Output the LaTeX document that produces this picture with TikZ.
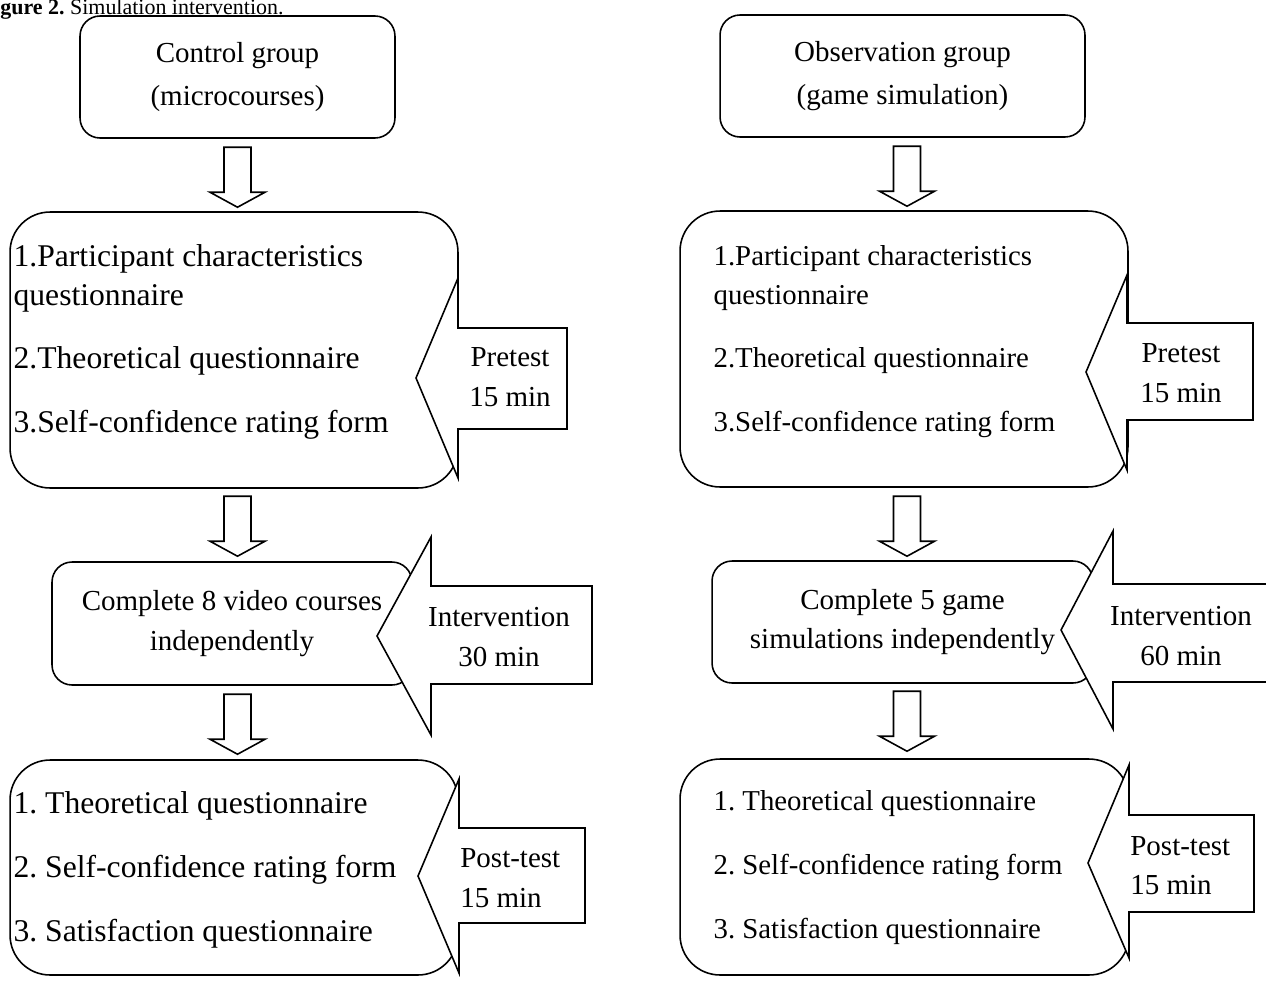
\documentclass[tikz,border=0pt]{standalone}
\usepackage{fontspec}
\setmainfont{Liberation Serif}
\usetikzlibrary{calc}

\tikzset{
  grpbox/.style={draw, line width=0.9pt, rounded corners=0.4cm, align=center, inner sep=0pt},
  listbox/.style={draw, line width=0.9pt, rounded corners=0.8cm, inner sep=0pt},
  listtext/.style={align=left, inner sep=0pt, anchor=west, font=\fontsize{18}{22.2}\selectfont},
  smalllist/.style={listtext, font=\fontsize{16.4}{22.2}\selectfont},
  blockarrow/.style={draw, line width=0.9pt, fill=white, line join=miter},
  armtext/.style={inner sep=0pt},
  pics/downblock/.style={code={
    \draw[blockarrow] (0,0) -- (-27.5,-15) -- (-13.5,-15) -- (-13.5,-60)
      -- (13.5,-60) -- (13.5,-15) -- (27.5,-15) -- cycle;
  }}
}

\begin{document}
\frenchspacing
\begin{tikzpicture}[x=0.02cm, y=-0.02cm, font=\fontsize{16.5}{22.5}\selectfont]
    \useasboundingbox (0,0) rectangle (1266,980);

    % Caption
    \node[anchor=base west, inner sep=0pt, font=\fontsize{12.5}{14}\selectfont] (cap) at (0,15)
        {\textbf{gure 2.}\ Simulation intervention.};

    % Control group column
    \node[grpbox, minimum width=6.3cm, minimum height=2.44cm] (c1) at (237.5,77)
        {Control group\\[2pt](microcourses)};
    \node[listbox, minimum width=8.96cm, minimum height=5.52cm] (c2) at (234,350) {};
    \node[listtext] (c2t) at ($(c2.west)+(4,-8)$)
        {1.Participant characteristics\\questionnaire\\[0.48cm]2.Theoretical questionnaire\\[0.5cm]3.Self-confidence rating form};
    \node[grpbox, minimum width=7.2cm, minimum height=2.46cm] (c3) at (232,623.5)
        {Complete 8 video courses\\independently};
    \node[listbox, minimum width=8.96cm, minimum height=4.3cm] (c4) at (234,867.5) {};
    \node[listtext] (c4t) at ($(c4.west)+(4,2)$)
        {1. Theoretical questionnaire\\[0.5cm]2. Self-confidence rating form\\[0.5cm]3. Satisfaction questionnaire};

    % Observation group column
    \node[grpbox, minimum width=7.3cm, minimum height=2.44cm] (o1) at (902.5,76)
        {Observation group\\[2pt](game simulation)};
    \node[listbox, minimum width=8.96cm, minimum height=5.52cm] (o2) at (904,349) {};
    \node[smalllist] (o2t) at ($(o2.west)+(34,-7)$)
        {1.Participant characteristics\\questionnaire\\[0.48cm]2.Theoretical questionnaire\\[0.5cm]3.Self-confidence rating form};
    \node[grpbox, minimum width=7.62cm, minimum height=2.44cm] (o3) at (902.5,622)
        {Complete 5 game\\simulations independently};
    \node[listbox, minimum width=8.98cm, minimum height=4.32cm] (o4) at (904.5,867) {};
    \node[smalllist] (o4t) at ($(o4.west)+(34,1)$)
        {1. Theoretical questionnaire\\[0.5cm]2. Self-confidence rating form\\[0.5cm]3. Satisfaction questionnaire};

    % Down arrows between the steps
    \pic at ($(c1.south |- c2.north)+(0,-4)$) {downblock};
    \pic at ($(c1.south |- c3.north)+(0,-5)$) {downblock};
    \pic at ($(c1.south |- c4.north)+(0,-5)$) {downblock};
    \pic at ($(o1.south |- o2.north)+(4.5,-4)$) {downblock};
    \pic at ($(o1.south |- o3.north)+(4.5,-4)$) {downblock};
    \pic at ($(o1.south |- o4.north)+(4.5,-7)$) {downblock};

    % Side arrows (left column)
    \draw[blockarrow] (416,378) -- (458,278) -- (458,328) -- (567,328) -- (567,429) -- (458,429) -- (458,478) -- cycle;
    \draw[blockarrow] (377,636) -- (431,537) -- (431,586) -- (592,586) -- (592,684) -- (431,684) -- (431,735) -- cycle;
    \draw[blockarrow] (418,876) -- (459,779) -- (459,828) -- (585,828) -- (585,923) -- (459,923) -- (459,973) -- cycle;

    % Side arrows (right column)
    \draw[blockarrow] (1086,372) -- (1127,275) -- (1127,323) -- (1253,323) -- (1253,420) -- (1127,420) -- (1127,470) -- cycle;
    \draw[blockarrow] (1061,630) -- (1113,531) -- (1113,584) -- (1268,584) -- (1268,682) -- (1113,682) -- (1113,729) -- cycle;
    \draw[blockarrow] (1088,863) -- (1129,765) -- (1129,815) -- (1254,815) -- (1254,912) -- (1129,912) -- (1129,958) -- cycle;

    % Side arrow labels
    \node[armtext, align=center] (pre1) at (510,377) {Pretest\\15 min};
    \node[armtext, align=center] (int1) at (499,637) {Intervention\\30 min};
    \node[armtext, align=left, anchor=west] (post1) at (460,878) {Post-test\\15 min};
    \node[armtext, align=center] (pre2) at (1181,373) {Pretest\\15 min};
    \node[armtext, align=center] (int2) at (1181,636) {Intervention\\60 min};
    \node[armtext, align=left, anchor=west] (post2) at (1130,865.5) {Post-test\\15 min};
\end{tikzpicture}
\end{document}
